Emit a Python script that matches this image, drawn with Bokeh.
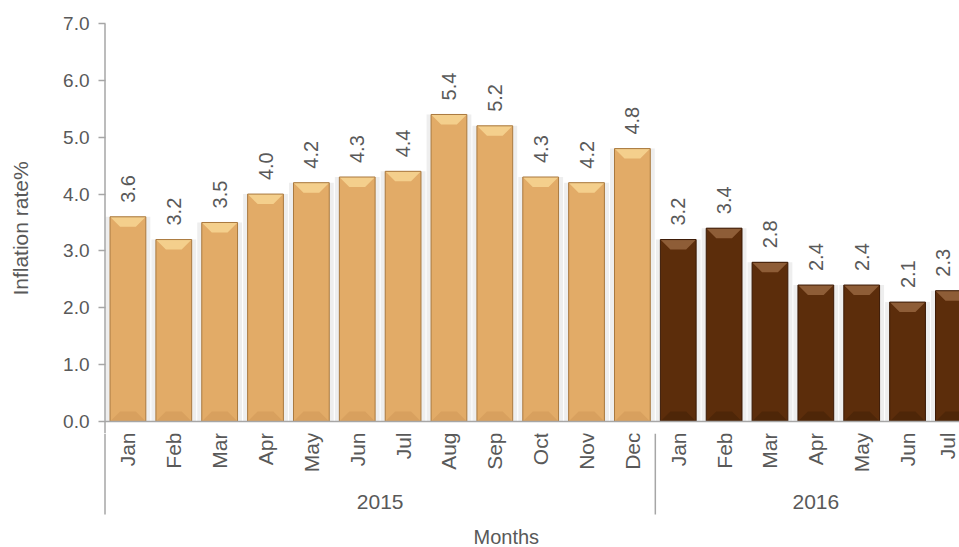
import math
from bokeh.plotting import figure
from bokeh.layouts import column
from bokeh.models import Range1d, FixedTicker, NumeralTickFormatter
from bokeh.core.properties import value
from bokeh.embed import file_html
from bokeh.resources import INLINE

# ---- data ----
months_2015 = ["Jan", "Feb", "Mar", "Apr", "May", "Jun", "Jul", "Aug", "Sep", "Oct", "Nov", "Dec"]
values_2015 = [3.6, 3.2, 3.5, 4.0, 4.2, 4.3, 4.4, 5.4, 5.2, 4.3, 4.2, 4.8]
months_2016 = ["Jan", "Feb", "Mar", "Apr", "May", "Jun", "Jul"]
values_2016 = [3.2, 3.4, 2.8, 2.4, 2.4, 2.1, 2.3]
years = ["2015", "2016"]
y_ticks = [0, 1, 2, 3, 4, 5, 6, 7]

FONT = value("Liberation Sans")
TXT = "#595959"
AXC = "#A6A6A6"

months = months_2015 + months_2016
vals = values_2015 + values_2016
n15 = len(months_2015)
xs = list(range(len(months)))

# scale helpers (pixels per unit)
ppx = 45.86
ppy = 56.8
W = 959
ml = 103
top_h, mt = 433, 23
bot_h = 547 - top_h
x0 = -0.5 - 1.5 / ppx
x1 = x0 + (W - ml) / ppx
y_hi = 7.0
y_mid = -12 / ppy
y_lo = y_mid - bot_h / ppy

p = figure(width=W, height=top_h, x_range=Range1d(x0, x1), y_range=Range1d(y_mid, y_hi),
           output_backend="svg", toolbar_location=None, x_axis_location=None,
           min_border_left=ml, min_border_right=0, min_border_top=mt, min_border_bottom=0,
           outline_line_color=None, background_fill_color="white", border_fill_color="white")
p.grid.visible = False

ax = p.yaxis[0]
ax.ticker = FixedTicker(ticks=y_ticks)
ax.formatter = NumeralTickFormatter(format="0.0")
ax.axis_line_color = None
ax.major_tick_line_color = AXC
ax.major_tick_line_width = 1.5
ax.major_tick_out = 5
ax.major_tick_in = 2
ax.minor_tick_line_color = None
ax.major_label_text_font = "Liberation Sans"
ax.major_label_text_font_size = "19px"
ax.major_label_text_color = TXT
ax.major_label_standoff = 9
ax.axis_label = "Inflation rate%"
ax.axis_label_text_font = "Liberation Sans"
ax.axis_label_text_font_size = "21px"
ax.axis_label_text_font_style = "normal"
ax.axis_label_text_color = TXT
ax.axis_label_standoff = 28

# ---- bars ----
bw = 0.78
ix = 10 / ppx
iy = 10 / ppy
colors = ["15"] * n15 + ["16"] * (len(months) - n15)
pal = {
    "15": dict(fill="#E2AB67", top="#F4CF8C", bot="#D8A05E", line="#A9793F"),
    "16": dict(fill="#5C2D0B", top="#8E5D37", bot="#4E2608", line="#3A1905"),
}

p.vbar(x=xs, top=vals, bottom=0, width=bw + 9 / ppx, fill_color="#EEEEEE", line_color=None)
fill = [pal[c]["fill"] for c in colors]
linec = [pal[c]["line"] for c in colors]
p.vbar(x=xs, top=vals, bottom=0, width=bw, fill_color=fill, line_color=None)

top_x, top_y, bot_x, bot_y = [], [], [], []
for x, v in zip(xs, vals):
    l, r = x - bw / 2, x + bw / 2
    top_x.append([l, r, r - ix, l + ix])
    top_y.append([v, v, v - iy, v - iy])
    bot_x.append([l, r, r - ix, l + ix])
    bot_y.append([0, 0, iy, iy])
p.patches(top_x, top_y, fill_color=[pal[c]["top"] for c in colors], line_color=None)
p.patches(bot_x, bot_y, fill_color=[pal[c]["bot"] for c in colors], line_color=None)
p.vbar(x=xs, top=vals, bottom=0, width=bw, fill_color=None, line_color=linec, line_width=1)

# value labels (kept inside the visible area)
lab_x = [min(x, x1 - 17 / ppx) for x in xs]
p.text(x=lab_x, y=vals, text=[f"{v:.1f}" for v in vals], angle=math.pi / 2,
       text_align="left", text_baseline="middle", y_offset=-14,
       text_font=FONT, text_font_size="20px", text_color=TXT)

# axis lines in the top panel
p.segment(x0=[-0.5], y0=[0], x1=[len(months)], y1=[0], line_color=AXC, line_width=1.5)
p.segment(x0=[-0.5], y0=[y_hi], x1=[-0.5], y1=[y_mid], line_color=AXC, line_width=1.5)

# ---- category panel ----
q = figure(width=W, height=bot_h, x_range=p.x_range, y_range=Range1d(y_lo, y_mid),
           output_backend="svg", toolbar_location=None, x_axis_location=None, y_axis_location=None,
           min_border_left=ml, min_border_right=0, min_border_top=0, min_border_bottom=0,
           outline_line_color=None, background_fill_color="white", border_fill_color="white")
q.grid.visible = False

sep_y = -93 / ppy
q.segment(x0=[-0.5, n15 - 0.5], y0=[y_mid, y_mid], x1=[-0.5, n15 - 0.5], y1=[sep_y, sep_y],
          line_color=AXC, line_width=1.5)

mon_x = [min(x, x1 - 12 / ppx) for x in xs]
q.text(x=mon_x, y=[-11 / ppy] * len(xs), text=months, angle=math.pi / 2,
       text_align="right", text_baseline="middle",
       text_font=FONT, text_font_size="21px", text_color=TXT)

grp_x = [sum(range(0, n15)) / n15, sum(range(n15, len(months))) / (len(months) - n15)]
q.text(x=grp_x, y=[-80 / ppy] * 2, text=years, text_align="center", text_baseline="middle",
       text_font=FONT, text_font_size="21px", text_color=TXT)

q.text(x=[8.25], y=[-115 / ppy], text=["Months"], text_align="center", text_baseline="middle",
       text_font=FONT, text_font_size="20px", text_color=TXT)

open("out.html", "w").write(file_html(column(p, q, spacing=0), INLINE))
